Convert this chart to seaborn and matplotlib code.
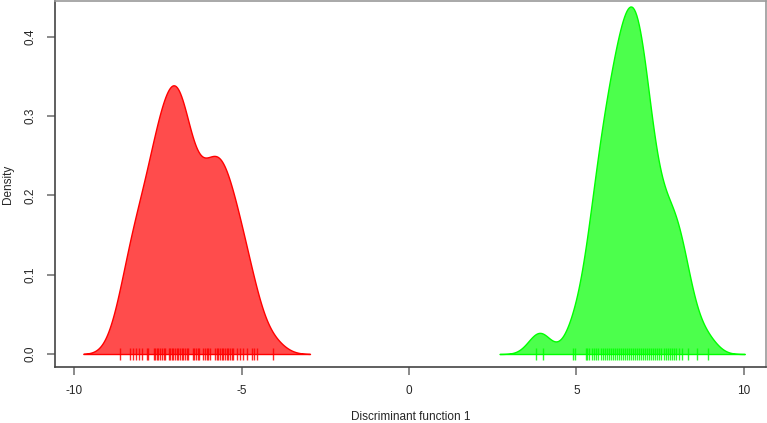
import numpy as np
import pandas as pd
import matplotlib
matplotlib.use("Agg")
import matplotlib.pyplot as plt
import seaborn as sns

# Discriminant function 1 scores read off the rug, with how many
# individuals sit on each tick (overlapping ticks estimated from the curve)
red_pos = [-8.63, -8.33, -8.23, -8.15, -8.05, -7.98, -7.83, -7.78, -7.61, -7.58,
           -7.53, -7.48, -7.43, -7.38, -7.33, -7.30, -7.18, -7.13, -7.08, -7.04,
           -6.99, -6.93, -6.89, -6.84, -6.79, -6.74, -6.69, -6.64, -6.59, -6.46,
           -6.41, -6.36, -6.31, -6.26, -6.14, -6.09, -6.04, -5.99, -5.94, -5.79,
           -5.74, -5.69, -5.64, -5.59, -5.54, -5.49, -5.44, -5.39, -5.34, -5.29,
           -5.24, -5.14, -5.04, -4.95, -4.84, -4.70, -4.63, -4.55, -4.05]
red_n = [2, 3, 1, 2, 1, 2, 2, 1, 2, 2,
         2, 2, 1, 2, 1, 1, 1, 2, 2, 2,
         2, 2, 2, 1, 2, 2, 1, 2, 1, 2,
         1, 1, 1, 1, 2, 1, 1, 1, 2, 2,
         2, 1, 2, 1, 1, 1, 1, 1, 1, 1,
         1, 2, 1, 2, 1, 1, 1, 1, 1]

green_pos = [3.79, 4.01, 4.89, 4.96,
             5.28, 5.33, 5.38, 5.45, 5.52, 5.58, 5.65, 5.72, 5.78, 5.85,
             5.90, 5.96, 6.02, 6.08, 6.14, 6.20, 6.26, 6.32, 6.38, 6.44,
             6.50, 6.56, 6.62, 6.68, 6.74, 6.80, 6.86, 6.92, 6.98, 7.04,
             7.10, 7.16, 7.22, 7.28, 7.34, 7.40, 7.46, 7.53, 7.60, 7.67,
             7.74, 7.80, 7.86, 7.92, 7.98, 8.05, 8.14,
             8.33, 8.59, 8.94]
green_n = [1, 1, 1, 1,
           1, 1, 1, 1, 1, 2, 1, 2, 2, 2,
           2, 1, 2, 2, 2, 2, 2, 3, 3, 2,
           2, 3, 2, 3, 2, 3, 3, 3, 2, 2,
           2, 2, 1, 2, 1, 1, 1, 1, 2, 1,
           1, 1, 1, 1, 1, 2, 2,
           2, 1, 1]

# bandwidths as R's density() picked them (judged from the tails)
groups = [
    ("red", red_pos, red_n, "#FF0000", 0.36),
    ("green", green_pos, green_n, "#00FF00", 0.31),
]

x_ticks = [-10, -5, 0, 5, 10]
y_ticks = [0.0, 0.1, 0.2, 0.3, 0.4]

sns.set_theme(style="ticks")
plt.rcParams["font.family"] = ["Liberation Sans", "DejaVu Sans"]

fig = plt.figure(figsize=(7.67, 4.23), dpi=100)
ax = fig.add_axes([0.0717, 0.1324, 0.9270, 0.8652])

for name, pos, n, col, bw in groups:
    df = pd.DataFrame({"score": pos, "n": n})
    sd = np.sqrt(np.cov(df["score"], aweights=df["n"]))
    sns.kdeplot(data=df, x="score", weights="n", bw_method=bw / sd, cut=3,
                fill=True, color=col, alpha=0.7, linewidth=1.0, ax=ax)
    sns.scatterplot(data=df, x="score", y=np.zeros(len(df)), marker="|",
                    s=70, color=col, alpha=0.85, linewidth=1.0, ax=ax,
                    legend=False)

ax.set_xlim(-10.57, 10.66)
ax.set_ylim(-0.0164, 0.4454)
ax.set_xticks(x_ticks)
ax.set_xticklabels([str(t) for t in x_ticks])
ax.set_yticks(y_ticks)
ax.set_yticklabels([f"{t:.1f}" for t in y_ticks], rotation=90, va="center")
ax.set_xlabel("Discriminant function 1", fontsize=8.5, labelpad=10)
ax.set_ylabel("Density", fontsize=8.5, labelpad=8)
ax.tick_params(axis="both", labelsize=8.5, length=6, width=1.2,
               color="#777777", direction="out", pad=7)

for side in ["left", "bottom"]:
    ax.spines[side].set_color("#444444")
    ax.spines[side].set_linewidth(1.2)
for side in ["top", "right"]:
    ax.spines[side].set_visible(True)
    ax.spines[side].set_color("#999999")
    ax.spines[side].set_linewidth(1.2)

fig.savefig("out.png", dpi=100)
